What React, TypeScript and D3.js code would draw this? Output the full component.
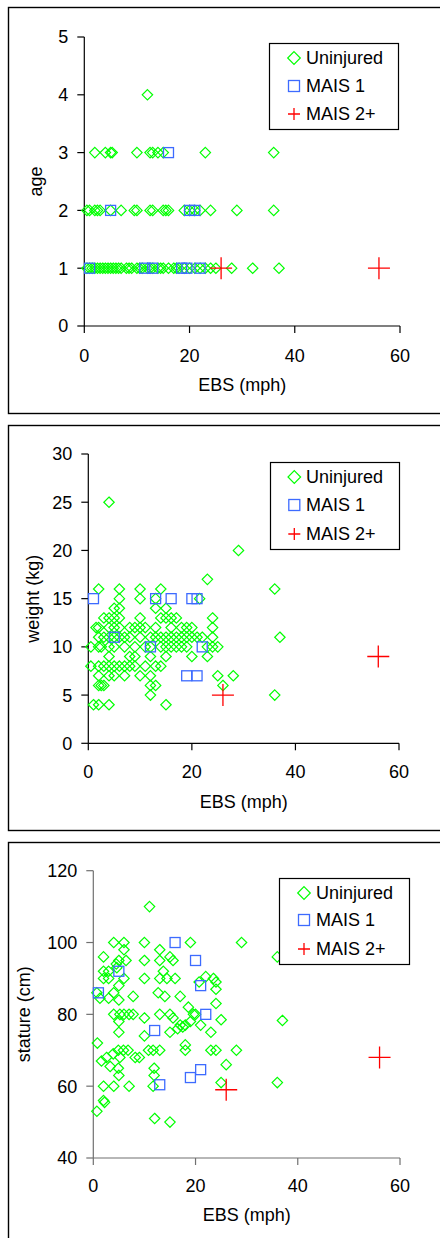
import React from "react";
import * as d3 from "d3";

// ---------- DATA ----------
const ebsTicks = [0, 20, 40, 60];
const ageTicks = [0, 1, 2, 3, 4, 5];
const weightTicks = [0, 5, 10, 15, 20, 25, 30];
const statureTicks = [40, 60, 80, 100, 120];
const legendLabels = ["Uninjured", "MAIS 1", "MAIS 2+"];

// age panel: rows of EBS values per age
const ageUninjuredRows: [number, number[]][] = [
  [4, [12]],
  [3, [2, 4, 5, 5.3, 10, 12.5, 13, 14, 15, 23, 36]],
  [2, [0.5, 1, 2, 2.5, 3, 5, 7, 9.5, 10, 12.5, 13, 15, 15.5, 16, 19, 20, 21, 22, 24, 29, 36]],
  [1, [0.5, 1, 1.5, 2, 2.5, 3, 3.5, 4, 4.5, 5, 5.5, 6, 6.5, 7, 8, 8.5, 9, 10, 10.5, 11, 12, 12.5, 13, 14, 14.5, 15, 16, 17, 17.5, 18, 19, 20, 21, 22, 23, 24, 25, 28, 32, 37]],
];
const ageMais1Rows: [number, number[]][] = [
  [3, [16]],
  [2, [5, 20, 21]],
  [1, [1, 11.5, 13, 18.5, 19.5, 22]],
];
const ageMais2Rows: [number, number[]][] = [[1, [26, 56]]];

// weight panel: rows of EBS values per weight (kg)
const weightUninjuredRows: [number, number[]][] = [
  [25, [4]],
  [20, [29]],
  [17, [23]],
  [16, [2, 6, 10, 14, 36]],
  [15, [6, 10, 13, 21.5]],
  [14, [5, 6, 13, 15]],
  [13, [3, 4, 5, 6, 10, 14, 15, 16, 17, 24]],
  [12, [1.5, 2, 4, 5, 6, 8, 9, 10, 11, 13, 16, 18, 19, 20, 24]],
  [11, [2, 3, 4, 5, 6, 7, 8, 10, 12, 13, 14, 15, 16, 17, 18, 19, 20, 21, 22, 24, 37]],
  [10, [0.5, 2, 2.5, 4, 5, 7, 9, 11, 12, 14, 15, 16, 17, 18, 19, 23, 24, 25]],
  [9, [4, 8, 9, 12, 15, 20, 23]],
  [8, [0.5, 2, 3, 4, 5, 6, 7, 8, 9, 11, 13, 14]],
  [7, [2, 4, 5, 7, 10, 12, 25, 28]],
  [6, [2, 2.5, 3, 12, 13, 26]],
  [5, [12, 36]],
  [4, [1, 2, 4, 15]],
];
const weightMais1: [number, number][] = [
  [1, 15], [13, 15], [16, 15], [20, 15], [21, 15], [5, 11], [12, 10], [22, 10], [19, 7], [21, 7],
];
const weightMais2: [number, number][] = [[26, 5], [56, 9]];

// stature panel: [EBS, stature cm]
const statureUninjured: [number, number][] = [
  [11, 110], [4, 100], [6, 100], [10, 100], [19, 100], [29, 100], [13, 98], [6, 98],
  [2, 96], [5, 95], [6.4, 95], [10, 95], [13, 95], [15, 96], [15.6, 95], [36, 96],
  [2, 92], [3, 92], [4.6, 93], [4.5, 94], [2, 90], [3, 90], [6, 90], [10, 90], [13, 90],
  [14.4, 90], [16, 90], [13.7, 92], [22, 90.5], [23.5, 90], [24, 89],
  [0.7, 86], [1.3, 84.5], [3, 84.5], [4, 86], [5, 84], [5, 88], [7.8, 85], [12.7, 86],
  [14, 85], [17, 85], [20.7, 89], [24, 87],
  [4, 80], [5.2, 80], [6, 80], [7, 80], [7.8, 80], [10, 79], [13, 80], [15, 80], [15.6, 79],
  [16.5, 76], [17, 77], [17.5, 76.5], [18, 77], [19, 78], [19.6, 80], [20, 80], [21, 77],
  [24, 83], [25, 78.5], [23, 75], [15, 75], [5, 78], [5, 75], [18.6, 82], [37, 78.3],
  [0.8, 72], [10, 74], [1.6, 67], [2.6, 68], [3.9, 69], [4.9, 70], [5.9, 70], [6.8, 70],
  [5.2, 68], [8.2, 68], [9, 68], [3.3, 65.5], [4.9, 65], [5, 63],
  [10.8, 70], [11.7, 70], [13, 70], [11.9, 65], [11.9, 63], [18, 71.5], [18, 70],
  [23, 70], [24, 70], [28, 70], [26, 66], [25, 61], [36, 61],
  [2, 60], [4, 60], [7, 60], [11.7, 60], [2, 56], [2.2, 55.5], [0.7, 53], [12, 51], [15, 50],
];
const statureMais1: [number, number][] = [
  [16, 100], [20, 95], [5, 92], [21, 88], [1, 86], [22, 80], [12, 75.5], [13, 60.4], [19, 62.4], [21, 64.6],
];
const statureMais2: [number, number][] = [[26, 59], [56, 68]];

// ---------- STYLE ----------
const GREEN = "#00ff00";
const BLUE = "#3d6bff";
const RED = "#ff0000";
const FONT = "'Liberation Sans', Arial, Helvetica, sans-serif";

const rowsToPoints = (rows: [number, number[]][]): [number, number][] =>
  rows.flatMap(([v, xs]) => xs.map((x) => [x, v] as [number, number]));

type PanelCfg = {
  top: number; // panel box top
  height: number;
  x0: number; x1: number; // x range
  yTop: number; yBot: number; // y range
  yDomain: [number, number];
  yTicks: number[];
  yLabel: string;
  yLabelX: number;
  xTickBaseline: number;
  xTitleBaseline: number;
  legend: { x: number; y: number; w: number; h: number; mx: number; tx: number; rows: number[] };
  axisColor: string;
  uninjured: [number, number][];
  mais1: [number, number][];
  mais2: [number, number][];
};

const Diamond = ({ x, y, r }: { x: number; y: number; r: number }) => (
  <path d={`M${x},${y - r}L${x + r},${y}L${x},${y + r}L${x - r},${y}Z`} fill="none" stroke={GREEN} strokeWidth={1.2} />
);
const Square = ({ x, y, r }: { x: number; y: number; r: number }) => (
  <rect x={x - r} y={y - r} width={2 * r} height={2 * r} fill="none" stroke={BLUE} strokeWidth={1.3} />
);
const Plus = ({ x, y, r }: { x: number; y: number; r: number }) => (
  <path d={`M${x - r},${y}H${x + r}M${x},${y - r}V${y + r}`} fill="none" stroke={RED} strokeWidth={1.3} />
);

function Panel({ c }: { c: PanelCfg }) {
  const xs = d3.scaleLinear().domain([0, 60]).range([c.x0, c.x1]);
  const ys = d3.scaleLinear().domain(c.yDomain).range([c.yBot, c.yTop]);
  const L = c.legend;
  return (
    <g>
      <rect x={8.5} y={c.top + 0.5} width={445} height={c.height} fill="none" stroke="#000" strokeWidth={1.4} />
      {/* axes */}
      <g stroke={c.axisColor} strokeWidth={1.2} fill="none">
        <line x1={c.x0} x2={c.x0} y1={c.yTop} y2={c.yBot} />
        <line x1={c.x0} x2={c.x1} y1={c.yBot} y2={c.yBot} />
        {c.yTicks.map((t) => (
          <line key={"yt" + t} x1={c.x0 - 7} x2={c.x0} y1={ys(t)} y2={ys(t)} />
        ))}
        {ebsTicks.map((t) => (
          <line key={"xt" + t} x1={xs(t)} x2={xs(t)} y1={c.yBot} y2={c.yBot + 7} />
        ))}
      </g>
      <g fontFamily={FONT} fontSize={18} fill="#000">
        {c.yTicks.map((t) => (
          <text key={"yl" + t} x={c.x0 - 16} y={ys(t)} dy="0.36em" textAnchor="end">{t}</text>
        ))}
        {ebsTicks.map((t) => (
          <text key={"xl" + t} x={xs(t)} y={c.xTickBaseline} textAnchor="middle">{t}</text>
        ))}
        <text x={(c.x0 + c.x1) / 2} y={c.xTitleBaseline} textAnchor="middle">EBS (mph)</text>
        <text transform={`translate(${c.yLabelX},${(c.yTop + c.yBot) / 2}) rotate(-90)`} textAnchor="middle">{c.yLabel}</text>
      </g>
      {/* data */}
      {c.uninjured.map(([x, y], i) => <Diamond key={"u" + i} x={xs(x)} y={ys(y)} r={5.2} />)}
      {c.mais1.map(([x, y], i) => <Square key={"m" + i} x={xs(x)} y={ys(y)} r={5} />)}
      {c.mais2.map(([x, y], i) => <Plus key={"p" + i} x={xs(x)} y={ys(y)} r={11} />)}
      {/* legend */}
      <rect x={L.x + 0.5} y={L.y + 0.5} width={L.w} height={L.h} fill="#fff" stroke="#000" strokeWidth={1.2} />
      <Diamond x={L.mx} y={L.rows[0]} r={6.3} />
      <Square x={L.mx} y={L.rows[1]} r={5.5} />
      <Plus x={L.mx} y={L.rows[2]} r={6} />
      <g fontFamily={FONT} fontSize={18} fill="#000">
        {legendLabels.map((s, i) => (
          <text key={s} x={L.tx} y={L.rows[i]} dy="0.36em">{s}</text>
        ))}
      </g>
    </g>
  );
}

const panels: PanelCfg[] = [
  {
    top: 7, height: 406, x0: 84.3, x1: 400, yTop: 37, yBot: 326, yDomain: [0, 5], yTicks: ageTicks,
    yLabel: "age", yLabelX: 42, xTickBaseline: 362, xTitleBaseline: 391,
    legend: { x: 269, y: 43, w: 129, h: 86, mx: 294, tx: 306, rows: [58, 86, 114] },
    axisColor: "#000",
    uninjured: rowsToPoints(ageUninjuredRows), mais1: rowsToPoints(ageMais1Rows), mais2: rowsToPoints(ageMais2Rows),
  },
  {
    top: 425, height: 405, x0: 88.3, x1: 399, yTop: 454, yBot: 743.3, yDomain: [0, 30], yTicks: weightTicks,
    yLabel: "weight (kg)", yLabelX: 39, xTickBaseline: 778, xTitleBaseline: 808,
    legend: { x: 270, y: 462, w: 129, h: 87, mx: 294.3, tx: 306, rows: [477, 505, 534] },
    axisColor: "#000",
    uninjured: rowsToPoints(weightUninjuredRows), mais1: weightMais1, mais2: weightMais2,
  },
  {
    top: 842, height: 420, x0: 93.3, x1: 400, yTop: 870.7, yBot: 1158, yDomain: [40, 120], yTicks: statureTicks,
    yLabel: "stature (cm)", yLabelX: 30, xTickBaseline: 1192, xTitleBaseline: 1221,
    legend: { x: 279, y: 878, w: 130, h: 86, mx: 304, tx: 316, rows: [893, 920, 949] },
    axisColor: "#707070",
    uninjured: statureUninjured, mais1: statureMais1, mais2: statureMais2,
  },
];

export default function App() {
  return (
    <svg width={440} height={1238} style={{ position: "absolute", left: 0, top: 0, background: "#fff" }}>
      <rect x={0} y={0} width={440} height={1238} fill="#fff" />
      {panels.map((p, i) => <Panel key={i} c={p} />)}
    </svg>
  );
}
